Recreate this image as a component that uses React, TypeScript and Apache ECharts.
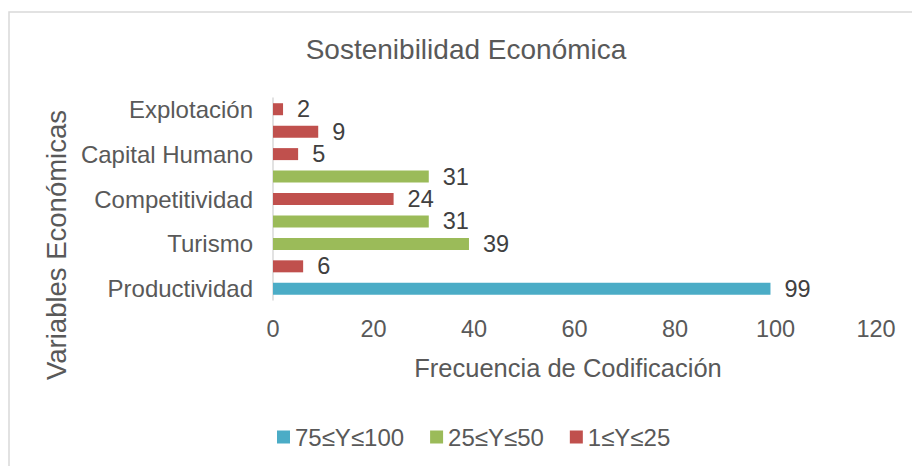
import React, { useEffect, useRef } from "react";
import * as echarts from "echarts";

const categories = ["Productividad", "", "Turismo", "", "Competitividad", "", "Capital Humano", "", "Explotación"];
const seriesNames = ["75≤Y≤100", "25≤Y≤50", "1≤Y≤25"];
const seriesHigh = [99, null, null, null, null, null, null, null, null];
const seriesMid = [null, null, 39, 31, null, 31, null, null, null];
const seriesLow = [null, 6, null, null, 24, null, 5, 9, 2];
const colors = ["#4BACC6", "#9BBB59", "#C0504D"];
const xTicks = { min: 0, max: 120, interval: 20 };
const titleText = "Sostenibilidad Económica";
const xName = "Frecuencia de Codificación";
const yName = "Variables Económicas";

const FONT = "'Liberation Sans', Arial, sans-serif";

export default function App() {
  const ref = useRef<HTMLDivElement>(null);
  useEffect(() => {
    if (!ref.current) return;
    const chart = echarts.init(ref.current, null, { renderer: "svg" });
    const mk = (i: number, data: (number | null)[]) => ({
      name: seriesNames[i],
      type: "bar",
      stack: "total",
      barWidth: 12,
      data: data.map((v) => (v === null ? "-" : v)),
      itemStyle: { color: colors[i] },
      label: {
        show: true,
        position: "right",
        distance: 14,
        color: "#404040",
        fontSize: 23.5,
        fontFamily: FONT,
      },
    });
    chart.setOption({
      animation: false,
      textStyle: { fontFamily: FONT },
      title: {
        text: titleText,
        left: 461,
        top: 30,
        textAlign: "center",
        textStyle: { fontSize: 28, fontWeight: "normal", color: "#595959", fontFamily: FONT },
      },
      graphic: [
        {
          type: "rect",
          shape: { x: 9, y: 12, width: 1000, height: 1000 },
          style: { fill: "none", stroke: "#d9d9d9", lineWidth: 1.5 },
          silent: true,
        },
        {
          type: "text",
          x: 568,
          y: 368,
          style: {
            text: xName,
            fontSize: 25.5,
            fill: "#595959",
            fontFamily: FONT,
            align: "center",
            verticalAlign: "middle",
          },
          silent: true,
        },
        {
          type: "text",
          x: 56,
          y: 245,
          rotation: Math.PI / 2,
          style: {
            text: yName,
            fontSize: 27.5,
            fill: "#595959",
            fontFamily: FONT,
            align: "center",
            verticalAlign: "middle",
          },
          silent: true,
        },
      ],
      legend: {
        data: seriesNames,
        left: 272,
        top: 420,
        itemWidth: 13,
        itemHeight: 13,
        itemGap: 26,
        icon: "rect",
        textStyle: { fontSize: 24, color: "#595959", fontFamily: FONT },
      },
      grid: { left: 273, right: 36, top: 98, bottom: 166, containLabel: false },
      xAxis: {
        type: "value",
        min: xTicks.min,
        max: xTicks.max,
        interval: xTicks.interval,
        axisLine: { show: false },
        axisTick: { show: false },
        splitLine: { show: false },
        axisLabel: { fontSize: 23.5, color: "#595959", margin: 17, fontFamily: FONT },
      },
      yAxis: {
        type: "category",
        data: categories,
        axisLine: { show: true, lineStyle: { color: "#d9d9d9", width: 1.5 } },
        axisTick: { show: false },
        axisLabel: { fontSize: 24, color: "#595959", margin: 20, interval: 1, fontFamily: FONT },
      },
      series: [mk(0, seriesHigh), mk(1, seriesMid), mk(2, seriesLow)],
    });
    return () => chart.dispose();
  }, []);
  return <div ref={ref} style={{ position: "fixed", left: 0, top: 0, width: 912, height: 466, background: "#fff" }} />;
}
